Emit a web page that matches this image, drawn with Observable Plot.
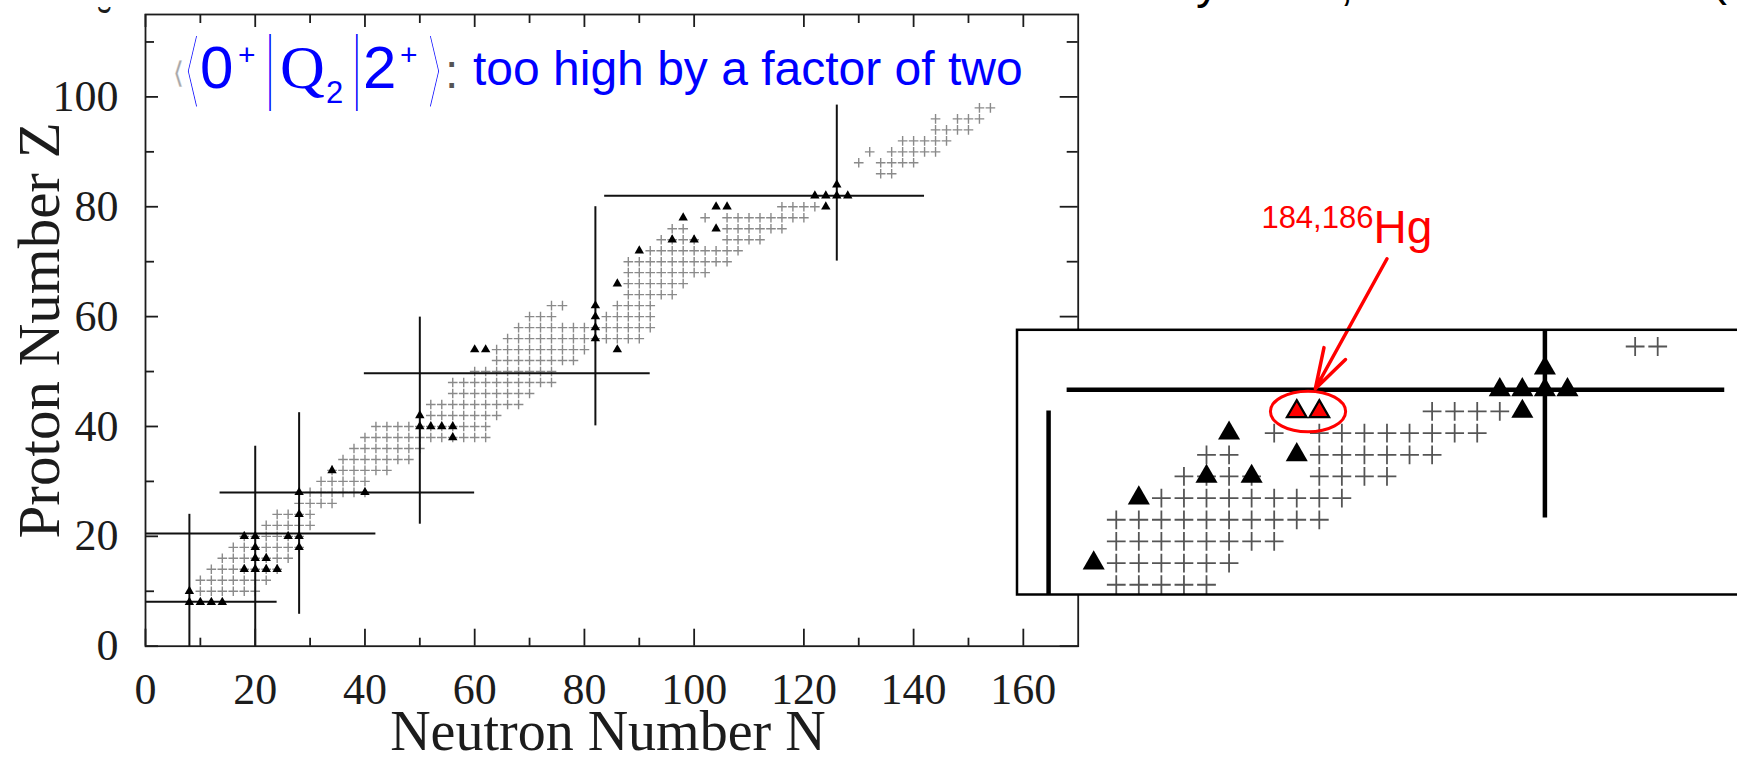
<!DOCTYPE html>
<html>
<head>
<meta charset="utf-8">
<script src="https://cdn.jsdelivr.net/npm/d3@7"></script>
<script src="https://cdn.jsdelivr.net/npm/@observablehq/plot@0.6"></script>
<style>
html, body { margin: 0; padding: 0; background: #fff; overflow: hidden; }
#page { position: relative; width: 1737px; height: 758px; overflow: hidden; background: #fff; }
#main { position: absolute; left: 0; top: 0; width: 1090px; }
#inset { position: absolute; left: 1000px; top: 150px; width: 742px; }
#ann { position: absolute; left: 0; top: 0; pointer-events: none; }
</style>
</head>
<body>
<div id="page">
  <div id="main"></div>
  <div id="inset"></div>
  <svg id="ann" width="1737" height="758"></svg>
</div>
<script>
// ---------------- data ----------------
// even-even nuclides (gray crosses): one row per Z, N runs from..to (step 2)
const crossZ     = [10, 12, 14, 16, 18, 20, 22, 24, 26, 28, 30, 32, 34, 36, 38, 40, 42, 44, 46, 48, 50, 52, 54, 56, 58, 60, 60, 62, 62, 64, 66, 68, 70, 72, 74, 74, 76, 76, 78, 78, 80, 86, 88, 88, 90, 90, 92, 94, 96, 96, 98];
const crossNFrom = [10, 10, 12, 14, 16, 18, 22, 24, 28, 30, 32, 34, 36, 38, 40, 42, 52, 52, 56, 56, 60, 64, 64, 66, 68, 70, 84, 74, 86, 88, 88, 88, 88, 92, 94, 106, 96, 106, 102, 106, 116, 134, 130, 134, 132, 136, 138, 144, 144, 148, 152];
const crossNTo   = [20, 22, 24, 26, 28, 28, 30, 30, 34, 40, 40, 44, 48, 50, 62, 62, 64, 68, 70, 74, 74, 78, 80, 90, 92, 74, 92, 76, 92, 96, 98, 102, 106, 108, 100, 112, 98, 116, 102, 120, 122, 136, 130, 140, 132, 144, 146, 150, 144, 152, 154];

// measured nuclei (black triangles)
const triN = [8, 10, 12, 14, 8, 18, 20, 22, 24, 20, 22, 20, 28, 18, 20, 26, 28, 28, 28, 34, 40, 50, 50, 52, 54, 56, 56, 60, 62, 82, 82, 82, 82, 86, 86, 90, 96, 100, 98, 104, 104, 106, 124, 122, 124, 126, 128, 126];
const triZ = [8, 8, 8, 8, 10, 14, 14, 14, 14, 16, 16, 18, 18, 20, 20, 20, 20, 24, 28, 32, 28, 42, 40, 40, 40, 40, 38, 54, 54, 56, 58, 60, 62, 54, 66, 72, 74, 74, 78, 76, 80, 80, 80, 82, 82, 82, 82, 84];

// 184,186Hg (highlighted in red in the inset)
const hgN = [104, 106];
const hgZ = [80, 80];

// magic-number lines
const vN  = [8, 20, 28, 50, 82, 126];
const vZ1 = [0, 0, 5.9, 22.3, 40.2, 70.2];
const vZ2 = [24.1, 36.5, 42.6, 60, 80.1, 98.6];
const hZ  = [8.1, 20.5, 28, 49.7, 82];
const hN1 = [0, 0, 13.5, 39.8, 83.6];
const hN2 = [23.9, 41.9, 59.9, 91.9, 141.9];

// ticks
const xMajorTicks = [0, 20, 40, 60, 80, 100, 120, 140, 160];
const xMinorTicks = [10, 30, 50, 70, 90, 130, 150];
const yMajorTicks = [0, 20, 40, 60, 80, 100];
const yMinorTicks = [10, 30, 50, 70, 90, 110];

// texts
const xTitle = "Neutron Number N";
const yTitle = "Proton Number Z";
const hgMass = "184,186";
const hgSymbol = "Hg";
const eqTail = "too high by a factor of two";

// annotation anchors (data units of the inset)
const hgLabel = [{N: 110.8, Zsup: 96.9, Zsym: 95.6}];
const hgArrow = [{N1: 112.0, Z1: 94.1, N2: 105.65, Z2: 82.1}];

// ---------------- derived tables ----------------
const crosses = [];
crossZ.forEach((z, i) => {
  for (let n = crossNFrom[i]; n <= crossNTo[i]; n += 2) crosses.push({N: n, Z: z});
});
const tris = triN.map((n, i) => ({N: n, Z: triZ[i]}));
const isHg = d => hgN.some((h, j) => h === d.N && hgZ[j] === d.Z);
const hgTris = tris.filter(isHg);
const otherTris = tris.filter(d => !isHg(d));
const hgCenter = [{N: d3.mean(hgN), Z: d3.mean(hgZ)}];
const vLines = vN.map((n, i) => ({N: n, Z1: vZ1[i], Z2: vZ2[i]}));
const hLines = hZ.map((z, i) => ({Z: z, N1: hN1[i], N2: hN2[i]}));

// ---------------- main chart ----------------
const serif = "'Liberation Serif', 'Times New Roman', serif";
const sans = "'Liberation Sans', Arial, sans-serif";
const ink = "#1c1c1c";
const W = 1090, H = 758;
const mL = 145, mT = 14, mR = W - 1077.7, mB = H - 645.7;
const PW = W - mL - mR, PH = H - mT - mB;

const main = Plot.plot({
  width: W, height: H,
  marginLeft: mL, marginTop: mT, marginRight: mR, marginBottom: mB,
  x: {domain: [0, 170]},
  y: {domain: [0, 115]},
  style: {fontFamily: serif, fontSize: "44px", color: ink, background: "transparent"},
  marks: [
    Plot.dot(crosses, {x: "N", y: "Z", symbol: "plus", r: 3.2, stroke: "#8a8a8a", strokeWidth: 1.4}),
    Plot.link(vLines, {x1: "N", x2: "N", y1: "Z1", y2: "Z2", stroke: "#111", strokeWidth: 2}),
    Plot.link(hLines, {x1: "N1", x2: "N2", y1: "Z", y2: "Z", stroke: "#111", strokeWidth: 2}),
    Plot.dot(tris, {x: "N", y: "Z", symbol: "triangle", r: 3.5, fill: "#000"}),
    Plot.frame({stroke: ink, strokeWidth: 1.8}),
    // inward ticks on all four sides
    Plot.tickX(xMajorTicks, {x: d => d, insetTop: PH - 17, stroke: ink, strokeWidth: 1.8}),
    Plot.tickX(xMinorTicks, {x: d => d, insetTop: PH - 8, stroke: ink, strokeWidth: 1.8}),
    Plot.tickX(xMajorTicks, {x: d => d, insetBottom: PH - 13, stroke: ink, strokeWidth: 1.8}),
    Plot.tickX(xMinorTicks, {x: d => d, insetBottom: PH - 9, stroke: ink, strokeWidth: 1.8}),
    Plot.tickY(yMajorTicks, {y: d => d, insetRight: PW - 13, stroke: ink, strokeWidth: 1.8}),
    Plot.tickY(yMinorTicks, {y: d => d, insetRight: PW - 9, stroke: ink, strokeWidth: 1.8}),
    Plot.tickY(yMajorTicks, {y: d => d, insetLeft: PW - 18, stroke: ink, strokeWidth: 1.8}),
    Plot.tickY(yMinorTicks, {y: d => d, insetLeft: PW - 11, stroke: ink, strokeWidth: 1.8}),
    Plot.axisX({ticks: xMajorTicks, tickSize: 0, tickPadding: 27, label: null}),
    Plot.axisY({ticks: yMajorTicks, tickSize: 0, tickPadding: 27, label: null}),
    Plot.text([xTitle], {text: d => d, frameAnchor: "bottom", dy: 104, dx: -4, lineAnchor: "bottom", fontSize: 56}),
    Plot.text([yTitle], {text: d => d, frameAnchor: "left", textAnchor: "middle", dx: -87, rotate: -90, lineAnchor: "bottom", fontSize: 59})
  ]
});
document.getElementById("main").append(main);

// ---------------- inset (magnified region) ----------------
const IW = 742, IH = 450;
const imL = 16.5, imT = 179.3, imB = 6, imR = 0;
const insetX = [79.2, 79.2 + (IW - imL - imR) / 11.28];
const insetY = [63.1, 63.1 + (IH - imT - imB) / 10.83];
const inView = d => d.N >= insetX[0] && d.N <= insetX[1] && d.Z >= insetY[0] && d.Z <= insetY[1];
const ellipse = {
  draw(ctx) {
    const rx = 37.6, ry = 20.3, k = 0.5523;
    ctx.moveTo(rx, 0);
    ctx.bezierCurveTo(rx, ry * k, rx * k, ry, 0, ry);
    ctx.bezierCurveTo(-rx * k, ry, -rx, ry * k, -rx, 0);
    ctx.bezierCurveTo(-rx, -ry * k, -rx * k, -ry, 0, -ry);
    ctx.bezierCurveTo(rx * k, -ry, rx, -ry * k, rx, 0);
    ctx.closePath();
  }
};
const inset = Plot.plot({
  width: IW, height: IH,
  marginLeft: imL, marginTop: imT, marginRight: imR, marginBottom: imB,
  x: {domain: insetX, axis: null},
  y: {domain: insetY, axis: null},
  style: {background: "transparent", overflow: "visible", fontFamily: sans},
  marks: [
    Plot.frame({fill: "#fff"}),
    Plot.dot(crosses.filter(inView), {x: "N", y: "Z", symbol: "plus", r: 6.1, stroke: "#555", strokeWidth: 1.8, clip: true}),
    Plot.link(vLines, {x1: "N", x2: "N", y1: "Z1", y2: "Z2", stroke: "#000", strokeWidth: 4.5, clip: true}),
    Plot.link(hLines, {x1: "N1", x2: "N2", y1: "Z", y2: "Z", stroke: "#000", strokeWidth: 4.5, clip: true}),
    Plot.dot(otherTris.filter(inView), {x: "N", y: "Z", symbol: "triangle", r: 8.2, fill: "#000", clip: true}),
    Plot.dot(hgTris, {x: "N", y: "Z", symbol: "triangle", r: 7.3, fill: "#ff0000", stroke: "#000", strokeWidth: 2.2, clip: true}),
    Plot.dot(hgCenter, {x: "N", y: "Z", symbol: ellipse, r: 1, fill: "none", stroke: "#ff0000", strokeWidth: 3}),
    Plot.arrow(hgArrow, {x1: "N1", y1: "Z1", x2: "N2", y2: "Z2", stroke: "#ff0000", strokeWidth: 3.5, headLength: 18, headAngle: 34}),
    Plot.text(hgLabel, {x: "N", y: "Zsup", text: () => hgMass, textAnchor: "end", lineAnchor: "bottom", fontSize: 31, fill: "#ff0000"}),
    Plot.text(hgLabel, {x: "N", y: "Zsym", text: () => hgSymbol, textAnchor: "start", lineAnchor: "bottom", fontSize: 46, fill: "#ff0000"}),
    Plot.frame({stroke: "#000", strokeWidth: 2.5})
  ]
});
document.getElementById("inset").append(inset);

// ---------------- blue formula annotation ----------------
const ann = d3.select("#ann");
const blue = "#0000ff";
function thinGlyph(ch, fam, box, target, color) {
  const fs = 100;
  const ctx = document.createElement("canvas").getContext("2d");
  ctx.font = `${fs}px ${fam}`;
  const m = ctx.measureText(ch);
  const L = -m.actualBoundingBoxLeft, R = m.actualBoundingBoxRight;
  const T = -m.actualBoundingBoxAscent, B = m.actualBoundingBoxDescent;
  const w0 = Math.max(R - L, 0.1), h0 = Math.max(B - T, 0.1);
  const sx = (box.x1 - box.x0) / w0, sy = (box.y1 - box.y0) / h0;
  const mb = ctx.measureText("|");
  const t = mb.actualBoundingBoxRight + mb.actualBoundingBoxLeft;
  let eLocal = 0;
  if (ch !== "|") {
    const dx0 = Math.max(w0 - t, 1), dy0 = h0 / 2;
    const cos0 = dy0 / Math.hypot(dx0, dy0);
    const dx1 = dx0 * sx, dy1 = dy0 * sy;
    const cos1 = dy1 / Math.hypot(dx1, dy1);
    const perp = (t / cos0) * sx * cos1;
    eLocal = Math.max(0, perp - target) / sx;
  }
  ann.append("text")
    .attr("transform", `translate(${box.x0 - L * sx},${box.y0 - T * sy}) scale(${sx},${sy})`)
    .attr("font-family", fam).attr("font-size", fs)
    .attr("fill", color)
    .attr("stroke", eLocal > 0 ? "#fff" : "none")
    .attr("stroke-width", eLocal)
    .attr("stroke-linejoin", "round")
    .text(ch);
}
function txt(s, x, y, size, fam, color) {
  ann.append("text").attr("x", x).attr("y", y)
    .attr("font-size", size).attr("font-family", fam).attr("fill", color)
    .text(s);
}
const dj = "'DejaVu Sans'";
thinGlyph("\u27E8", dj, {x0: 175, y0: 60, x1: 182, y1: 87}, 2.5, "#a8a8a8");
thinGlyph("\u27E8", dj, {x0: 185, y0: 33, x1: 200, y1: 110}, 1.6, blue);
thinGlyph("|", dj, {x0: 269.2, y0: 33, x1: 270.8, y1: 110}, 1.6, blue);
thinGlyph("|", dj, {x0: 356.0, y0: 33, x1: 357.6, y1: 110}, 1.6, blue);
thinGlyph("\u27E9", dj, {x0: 427, y0: 33, x1: 442, y1: 110}, 1.6, blue);
txt("0", 200, 88, 60, sans, blue);
txt("+", 238, 65, 30, sans, blue);
txt("Q", 280, 88, 62, serif, blue);
txt("2", 326, 103, 31, sans, blue);
txt("2", 363, 88, 60, sans, blue);
txt("+", 400, 65, 30, sans, blue);
txt(":", 445, 88, 48, sans, "#555");
txt(eqTail, 473, 85, 48, sans, blue);

// fragments of text cut off by the top edge of the picture
txt("\u02D8", 97, 37, 44, serif, ink);
txt("y", 1196, -2, 48, sans, "#000");
txt(",", 1340, 0, 48, sans, "#000");
txt("(", 1711, -5, 48, sans, "#000");
</script>
</body>
</html>
